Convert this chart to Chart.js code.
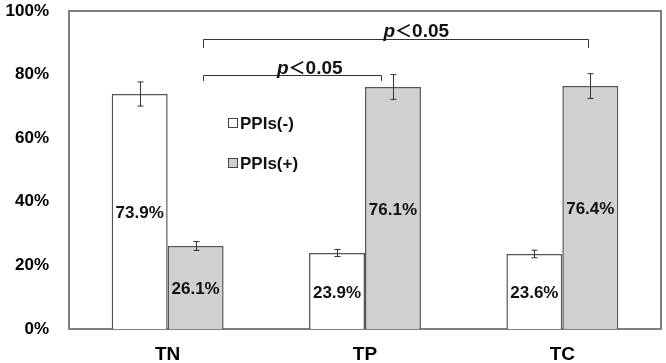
<!DOCTYPE html>
<html>
<head>
<meta charset="utf-8">
<script src="https://cdn.jsdelivr.net/npm/chart.js@4.4.0/dist/chart.umd.min.js"></script>
<style>
    html, body { margin: 0; padding: 0; background: #fff; }
    #wrap { width: 666px; height: 363px; }
</style>
</head>
<body>
<div id="wrap"><canvas id="chart"></canvas></div>
<script>
const categories = ['TN', 'TP', 'TC'];
const negValues = [73.9, 23.9, 23.6];   // PPIs(-)
const posValues = [26.1, 76.1, 76.4];   // PPIs(+)
const negErrors = [3.8, 1.1, 1.2];
const posErrors = [1.4, 3.9, 3.9];
const yTicks = [0, 20, 40, 60, 80, 100];

// significance brackets: x in category units, y in percent
const brackets = [
    { x1: 0.18, x2: 2.13, y: 91.1, tickTo: 88.4, textX: 1.26, textY: 91.7 },
    { x1: 0.18, x2: 1.08, y: 79.9, tickTo: 78.0, textX: 0.72, textY: 80.3 }
];

const FONT = '"Liberation Sans", Arial, sans-serif';

const framePlugin = {
    id: 'frame',
    beforeDatasetsDraw(chart) {
        const { ctx, chartArea: a } = chart;
        ctx.save();
        ctx.strokeStyle = '#7f7f7f';
        ctx.lineWidth = 2;
        ctx.strokeRect(a.left, a.top, a.right - a.left, a.bottom - a.top);
        ctx.restore();
    }
};

const extrasPlugin = {
    id: 'extras',
    afterDatasetsDraw(chart) {
        const ctx = chart.ctx;
        const yScale = chart.scales.y;
        const xScale = chart.scales.x;
        const errs = [negErrors, posErrors];

        ctx.save();
        // error bars
        ctx.strokeStyle = '#333';
        ctx.lineWidth = 1;
        chart.data.datasets.forEach((ds, di) => {
            const meta = chart.getDatasetMeta(di);
            meta.data.forEach((bar, i) => {
                const v = ds.data[i];
                const yTop = yScale.getPixelForValue(v + errs[di][i]);
                const yBot = yScale.getPixelForValue(v - errs[di][i]);
                const x = Math.round(bar.x) + 0.5;
                ctx.beginPath();
                ctx.moveTo(x, yTop); ctx.lineTo(x, yBot);
                ctx.moveTo(x - 3, yTop); ctx.lineTo(x + 3, yTop);
                ctx.moveTo(x - 3, yBot); ctx.lineTo(x + 3, yBot);
                ctx.stroke();
            });
        });

        // value labels in bar middle
        ctx.fillStyle = '#111';
        ctx.font = 'bold 17px ' + FONT;
        ctx.textAlign = 'center';
        ctx.textBaseline = 'middle';
        chart.data.datasets.forEach((ds, di) => {
            const meta = chart.getDatasetMeta(di);
            meta.data.forEach((bar, i) => {
                const v = ds.data[i];
                ctx.fillText(v.toFixed(1) + '%', bar.x, yScale.getPixelForValue(v / 2) + 2);
            });
        });

        // brackets
        const pxX = (c) => xScale.getPixelForValue(0) + c * (xScale.getPixelForValue(1) - xScale.getPixelForValue(0));
        brackets.forEach(b => {
            const x1 = Math.round(pxX(b.x1)) + 0.5;
            const x2 = Math.round(pxX(b.x2)) + 0.5;
            const y = Math.round(yScale.getPixelForValue(b.y)) + 0.5;
            const yt = yScale.getPixelForValue(b.tickTo);
            ctx.strokeStyle = '#333';
            ctx.lineWidth = 1;
            ctx.beginPath();
            ctx.moveTo(x1, yt); ctx.lineTo(x1, y); ctx.lineTo(x2, y); ctx.lineTo(x2, yt);
            ctx.stroke();

            // "p<0.05" text
            const parts = [
                { t: 'p', f: 'italic bold 19px ' + FONT },
                { t: '\uFF1C', f: 'bold 17px "Noto Sans CJK SC", ' + FONT },
                { t: '0.05', f: 'bold 19px ' + FONT }
            ];
            let total = 0;
            parts.forEach(p => { ctx.font = p.f; p.w = ctx.measureText(p.t).width; total += p.w; });
            let x = pxX(b.textX) - total / 2;
            const by = yScale.getPixelForValue(b.textY);
            ctx.textAlign = 'left';
            ctx.textBaseline = 'alphabetic';
            ctx.fillStyle = '#111';
            parts.forEach(p => {
                ctx.font = p.f;
                ctx.fillText(p.t, x, by);
                x += p.w;
            });
        });

        // legend inside the plot
        const legendItems = [
            { label: 'PPIs(-)', fill: '#ffffff', y: 123 },
            { label: 'PPIs(+)', fill: '#d0d0d0', y: 163 }
        ];
        ctx.font = 'bold 17px ' + FONT;
        ctx.textBaseline = 'middle';
        legendItems.forEach(it => {
            ctx.fillStyle = it.fill;
            ctx.fillRect(228.5, it.y - 4.5, 9, 9);
            ctx.strokeStyle = '#444';
            ctx.lineWidth = 1;
            ctx.strokeRect(228.5, it.y - 4.5, 9, 9);
            ctx.fillStyle = '#111';
            ctx.fillText(it.label, 240, it.y + 1);
        });
        ctx.restore();
    }
};

new Chart(document.getElementById('chart'), {
    type: 'bar',
    data: {
        labels: categories,
        datasets: [
            {
                label: 'PPIs(-)',
                data: negValues,
                backgroundColor: '#ffffff',
                borderColor: '#555555',
                borderWidth: 1.5
            },
            {
                label: 'PPIs(+)',
                data: posValues,
                backgroundColor: '#d0d0d0',
                borderColor: '#555555',
                borderWidth: 1.5
            }
        ]
    },
    options: {
        responsive: true,
        maintainAspectRatio: false,
        animation: false,
        layout: { padding: { left: 0, right: 5, top: 11, bottom: 0 } },
        datasets: {
            bar: { categoryPercentage: 0.567, barPercentage: 1.0 }
        },
        plugins: {
            legend: { display: false },
            tooltip: { enabled: false }
        },
        scales: {
            x: {
                grid: { display: false, drawTicks: false },
                border: { display: true, color: '#7f7f7f', width: 2 },
                ticks: { color: '#000', font: { family: FONT, size: 19, weight: 'bold' }, padding: 14 },
                afterFit(scale) { scale.height = 34; }
            },
            y: {
                min: 0,
                max: 100,
                grid: { display: false, drawTicks: false },
                border: { display: true, color: '#7f7f7f', width: 2 },
                afterBuildTicks(scale) { scale.ticks = yTicks.map(v => ({ value: v })); },
                ticks: {
                    color: '#000',
                    font: { family: FONT, size: 17, weight: 'bold' },
                    padding: 20,
                    callback: v => v + '%'
                },
                afterFit(scale) {
                    scale.width = 69;
                    scale.paddingTop = 10;
                    scale.paddingBottom = 10;
                }
            }
        }
    },
    plugins: [framePlugin, extrasPlugin]
});
</script>
</body>
</html>
